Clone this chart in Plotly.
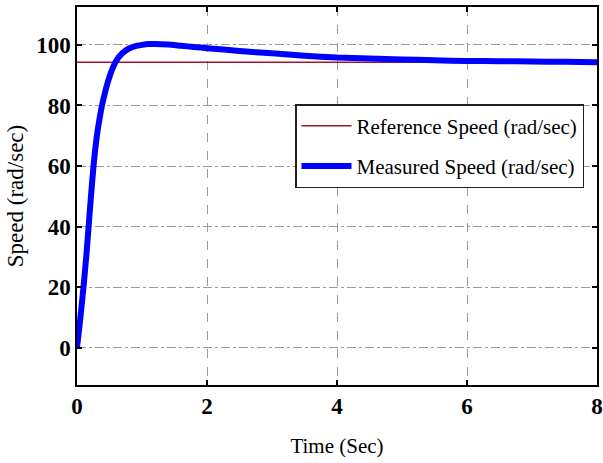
import plotly.graph_objects as go

# Data
time_s = [0, 0.05, 0.1, 0.15, 0.2, 0.25, 0.3, 0.35, 0.4, 0.5, 0.6, 0.7, 0.8, 0.9,
          1.0, 1.1, 1.2, 1.4, 1.6, 1.8, 2.0, 2.5, 3.0, 3.5, 4.0, 4.5, 5.0, 5.5,
          6.0, 6.5, 7.0, 7.5, 8.0]
measured_speed = [0, 9.5, 20, 32, 46, 59, 69, 76, 81.5, 89.5, 94.6, 97.3, 98.8, 99.6,
                  100.0, 100.3, 100.3, 100.1, 99.7, 99.3, 98.9, 98.0, 97.2, 96.4, 95.8,
                  95.5, 95.2, 94.9, 94.7, 94.6, 94.5, 94.4, 94.3]
ref_time = [0, 8]
ref_speed = [94.25, 94.25]

x_ticks = [0, 2, 4, 6, 8]
y_ticks = [0, 20, 40, 60, 80, 100]

serif = "Liberation Serif, Times New Roman, serif"

fig = go.Figure()
fig.add_trace(go.Scatter(x=ref_time, y=ref_speed, mode="lines",
                         name="Reference Speed (rad/sec)", legendgroup="a",
                         line=dict(color="#A2142F", width=1.5)))
fig.add_trace(go.Scatter(x=time_s, y=measured_speed, mode="lines",
                         name="Measured Speed (rad/sec)", legendgroup="b",
                         line=dict(color="#0000FF", width=6, shape="spline", smoothing=0.5)))

fig.update_layout(
    width=603, height=463,
    margin=dict(l=77, r=6, t=7, b=78),
    paper_bgcolor="white", plot_bgcolor="white",
    font=dict(family=serif, color="black"),
    legend=dict(x=0.975, y=0.743, xanchor="right", yanchor="top",
                bgcolor="white", bordercolor="#222", borderwidth=1.5,
                font=dict(family=serif, size=21, color="black"),
                itemwidth=50, traceorder="grouped", tracegroupgap=10),
    showlegend=True,
)
fig.update_xaxes(
    range=[0, 8], tickvals=x_ticks, ticktext=[str(v) for v in x_ticks],
    showline=True, linecolor="black", linewidth=1.5, mirror="ticks",
    ticks="inside", ticklen=5, tickcolor="black", tickwidth=1.5,
    showgrid=True, gridcolor="#9a9a9a", gridwidth=1, griddash="dash",
    zeroline=False, automargin=False,
    tickfont=dict(family=serif, size=23, color="black", weight="bold"),
    title=dict(text="Time (Sec)", font=dict(family=serif, size=21, color="black"), standoff=20),
)
fig.update_yaxes(
    range=[-12.3, 112.5], tickvals=y_ticks, ticktext=[str(v) for v in y_ticks],
    showline=True, linecolor="black", linewidth=1.5, mirror="ticks",
    ticks="inside", ticklen=5, tickcolor="black", tickwidth=1.5,
    showgrid=True, gridcolor="#9a9a9a", gridwidth=1, griddash="dashdot",
    zeroline=False, automargin=False,
    tickfont=dict(family=serif, size=23, color="black", weight="bold"),
    title=dict(text="Speed (rad/sec)", font=dict(family=serif, size=23, color="black"), standoff=6),
)

fig.write_html("out.html")
